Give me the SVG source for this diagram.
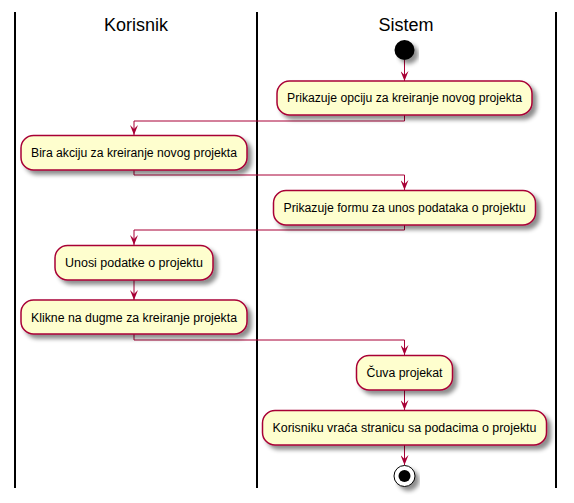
<svg xmlns="http://www.w3.org/2000/svg" width="574" height="503" viewBox="0 0 574 503">
<style>
.lane{stroke:#000;stroke-width:2;fill:none}
.title{font-family:"Liberation Sans",Arial,sans-serif;font-size:18px;fill:#000;text-anchor:middle}
.box{fill:#FEFECE;stroke:#A80036;stroke-width:1.5}
.lbl{font-family:"Liberation Sans",Arial,sans-serif;font-size:12px;fill:#000;text-anchor:middle}
.edge{stroke:#A80036;stroke-width:1;fill:none;marker-end:url(#arr)}
</style>
<defs>
<filter id="sh" x="-10%" y="-20%" width="130%" height="160%">
<feGaussianBlur in="SourceAlpha" stdDeviation="2"/>
<feColorMatrix type="matrix" values="0 0 0 0 0  0 0 0 0 0  0 0 0 0 0  0 0 0 0.45 0"/>
<feOffset dx="4" dy="4" result="s"/>
<feMerge><feMergeNode in="s"/><feMergeNode in="SourceGraphic"/></feMerge>
</filter>
<marker id="arr" markerUnits="userSpaceOnUse" markerWidth="10" markerHeight="8" viewBox="0 0 10 8" refX="10" refY="4" orient="auto">
<path d="M0,0 L10,4 L0,8 L4,4 Z" fill="#A80036"/>
</marker>
</defs>
<g id="lanes">
<line class="lane" x1="15" y1="12" x2="15" y2="488"/>
<line class="lane" x1="257" y1="12" x2="257" y2="488"/>
<line class="lane" x1="556" y1="12" x2="556" y2="488"/>
<text class="title" x="136" y="31">Korisnik</text>
<text class="title" x="406" y="31">Sistem</text>
</g>
<g id="connectors">
<line class="edge" x1="404.5" y1="60" x2="404.5" y2="81"/>
<polyline class="edge" points="404.5,115 404.5,121 134,121 134,135"/>
<polyline class="edge" points="134,170 134,175 404.5,175 404.5,190"/>
<polyline class="edge" points="404.5,225 404.5,230 134,230 134,245"/>
<line class="edge" x1="134" y1="280" x2="134" y2="300"/>
<polyline class="edge" points="134,334 134,340 404.5,340 404.5,355"/>
<line class="edge" x1="404.5" y1="390" x2="404.5" y2="410"/>
<line class="edge" x1="404.5" y1="445" x2="404.5" y2="465"/>
</g>
<g id="start">
<circle cx="404.5" cy="50" r="10" fill="#000" filter="url(#sh)"/>
</g>
<g id="n1">
<rect class="box" x="277" y="81" width="255" height="34" rx="12.5" filter="url(#sh)"/>
<text class="lbl" x="404.5" y="102" textLength="235" lengthAdjust="spacingAndGlyphs">Prikazuje opciju za kreiranje novog projekta</text>
</g>
<g id="n2">
<rect class="box" x="21" y="135.5" width="226" height="34.5" rx="12.5" filter="url(#sh)"/>
<text class="lbl" x="134" y="157" textLength="206" lengthAdjust="spacingAndGlyphs">Bira akciju za kreiranje novog projekta</text>
</g>
<g id="n3">
<rect class="box" x="273.5" y="190.5" width="262" height="34.5" rx="12.5" filter="url(#sh)"/>
<text class="lbl" x="404.5" y="212" textLength="242" lengthAdjust="spacingAndGlyphs">Prikazuje formu za unos podataka o projektu</text>
</g>
<g id="n4">
<rect class="box" x="55" y="245.5" width="158" height="34.5" rx="12.5" filter="url(#sh)"/>
<text class="lbl" x="134" y="267" textLength="138" lengthAdjust="spacingAndGlyphs">Unosi podatke o projektu</text>
</g>
<g id="n5">
<rect class="box" x="21" y="300" width="226" height="34" rx="12.5" filter="url(#sh)"/>
<text class="lbl" x="134" y="321.5" textLength="206" lengthAdjust="spacingAndGlyphs">Klikne na dugme za kreiranje projekta</text>
</g>
<g id="n6">
<rect class="box" x="356.5" y="355.5" width="96" height="34.5" rx="12.5" filter="url(#sh)"/>
<text class="lbl" x="404.5" y="377" textLength="76" lengthAdjust="spacingAndGlyphs">Čuva projekat</text>
</g>
<g id="n7">
<rect class="box" x="262.5" y="410.5" width="284" height="34.5" rx="12.5" filter="url(#sh)"/>
<text class="lbl" x="404.5" y="432" textLength="264" lengthAdjust="spacingAndGlyphs">Korisniku vraća stranicu sa podacima o projektu</text>
</g>
<g id="end">
<circle cx="404.5" cy="476" r="10.5" fill="#fff" stroke="#000" stroke-width="1" filter="url(#sh)"/>
<circle cx="404.5" cy="476" r="6" fill="#000"/>
</g>
</svg>
